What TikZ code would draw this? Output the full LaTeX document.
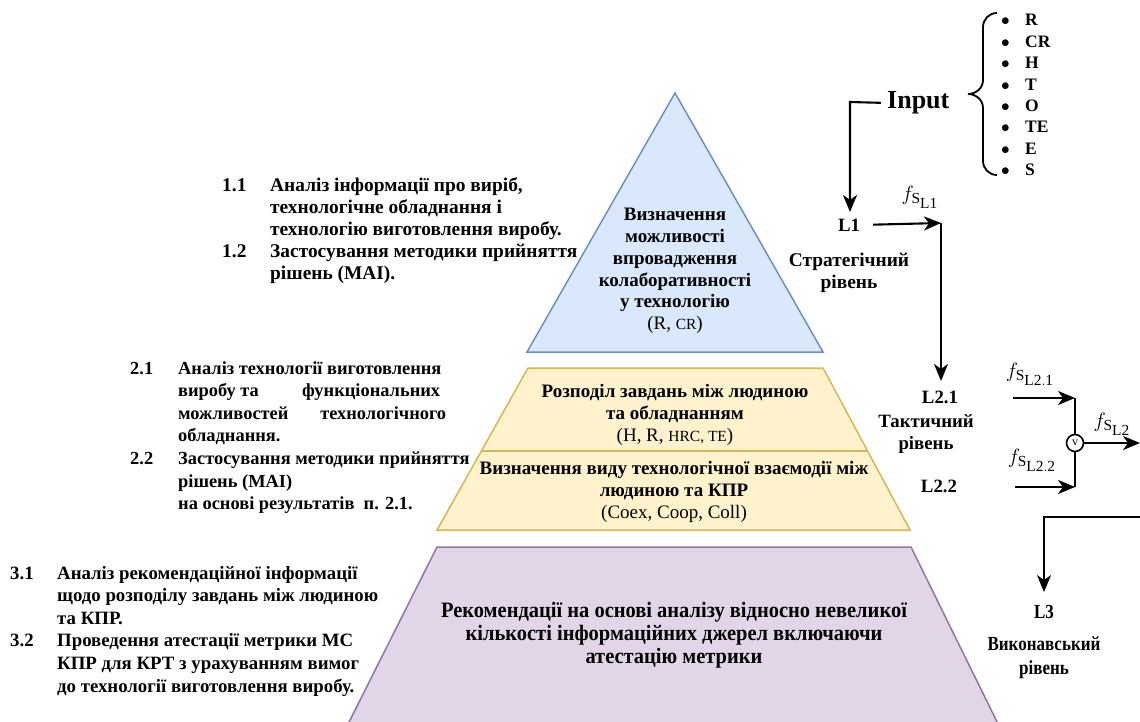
\documentclass[tikz,border=0pt]{standalone}
\usepackage{fontspec}
\setmainfont{Liberation Serif}[BoldFont={Liberation Serif Bold}]
\usetikzlibrary{arrows.meta}
\definecolor{blueF}{HTML}{DAE8FC}
\definecolor{blueD}{HTML}{6C8EBF}
\definecolor{yelF}{HTML}{FFF2CC}
\definecolor{yelD}{HTML}{D6B656}
\definecolor{purF}{HTML}{E1D5E7}
\definecolor{purD}{HTML}{9673A6}
\tikzset{
  lvlshape/.style={line width=1.5pt},
  ptext/.style={align=center, inner sep=0pt, font=\bfseries\fontsize{19}{21.7}\selectfont},
  lbl/.style={align=center, inner sep=0pt, font=\bfseries\fontsize{18.8}{22}\selectfont},
  lefttext/.style={anchor=base west, inner sep=0pt, font=\bfseries\fontsize{18.4}{22.6}\selectfont},
  flabel/.style={inner sep=0pt, font=\fontsize{22}{24}\selectfont},
  arr/.style={line width=2.1pt, -{Stealth[length=17pt,width=14pt,inset=5pt]}},
  ln/.style={line width=2.1pt},
}
\begin{document}
\begin{tikzpicture}[x=1pt,y=-1pt]
\useasboundingbox (0,0) rectangle (1140,722);
\clip (0,0) rectangle (1140,722);
% pyramid
\draw[lvlshape, draw=blueD, fill=blueF] (675,93) -- (823,352) -- (527,352) -- cycle;
\draw[lvlshape, draw=yelD, fill=yelF] (528,368) -- (823,368) -- (910,530) -- (437,530) -- cycle;
\draw[lvlshape, draw=yelD] (481,451) -- (867,451);
\draw[lvlshape, draw=purD, fill=purF] (437,547) -- (911,547) -- (1001,730) -- (345,730) -- cycle;

\node[ptext] (t1) at (675,271) {Визначення\\можливості\\впровадження\\колаборативності\\у технологію\\{\mdseries (R, {\fontsize{15.5}{15}\selectfont CR})}};
\node[ptext] (t21) at (675,415) {Розподіл завдань між людиною\\та обладнанням\\{\mdseries (H, R, {\fontsize{15.5}{15}\selectfont HRC, TE})}};
\node[ptext] (t22) at (674,492) {Визначення виду технологічної взаємодії між\\людиною та КПР\\{\mdseries (Coex, Coop, Coll)}};
\node[ptext, font=\bfseries\fontsize{22}{23}\selectfont] (t3) at (674,636) {\scalebox{0.93}[1]{\begin{tabular}{@{}c@{}}Рекомендації на основі аналізу відносно невеликої\\кількості інформаційних джерел включаючи\\атестацію метрики\end{tabular}}};

% left texts
\node[lefttext, font=\bfseries\fontsize{19.4}{22}\selectfont] (b1) at (222,192) {\begin{tabular}[t]{@{}l@{}l@{}}
\makebox[48pt][l]{1.1}&Аналіз інформації про виріб,\\
&технологічне обладнання і\\
&технологію виготовлення виробу.\\
\makebox[48pt][l]{1.2}&Застосування методики прийняття\\
&рішень (МАІ).\end{tabular}};
\node[lefttext] (b2) at (130,374) {\begin{tabular}[t]{@{}l@{}l@{}}
\makebox[48pt][l]{2.1}&Аналіз технології виготовлення\\
&\makebox[262pt][s]{виробу та\hfill функціональних}\\
&\makebox[268pt][s]{можливостей\hfill технологічного}\\
&обладнання.\\
\makebox[48pt][l]{2.2}&Застосування методики прийняття\\
&рішень (МАІ)\\
&на основі результатів~ п. 2.1.\end{tabular}};
\node[lefttext, font=\bfseries\fontsize{18.8}{22.6}\selectfont] (b3) at (10,579) {\begin{tabular}[t]{@{}l@{}l@{}}
\makebox[47pt][l]{3.1}&Аналіз рекомендаційної інформації\\
&щодо розподілу завдань між людиною\\
&та КПР.\\
\makebox[47pt][l]{3.2}&Проведення атестації метрики МС\\
&КПР для КРТ з урахуванням вимог\\
&до технології виготовлення виробу.\end{tabular}};

% input
\node[lbl, anchor=west, font=\bfseries\fontsize{26}{28}\selectfont] (input) at (887,103) {Input};
\draw[ln, line width=1.8pt] (997,13) to[out=180,in=90] (983,27) -- (983,80) to[out=-90,in=0] (968,94)
  to[out=0,in=90] (983,108) -- (983,161) to[out=-90,in=180] (997,175);
\node[anchor=base west, inner sep=0pt, font=\bfseries\fontsize{17.5}{21.4}\selectfont] (ilist) at (1001,26) {\begin{tabular}[t]{@{}l@{}l@{}}
\makebox[24pt][l]{$\bullet$}&R\\ $\bullet$&CR\\ $\bullet$&H\\ $\bullet$&T\\ $\bullet$&O\\ $\bullet$&TE\\ $\bullet$&E\\ $\bullet$&S\end{tabular}};

% levels
\node[lbl] (L1) at (849,225) {L1};
\node[lbl, font=\bfseries\fontsize{19.4}{22}\selectfont] (s1) at (849,273) {Стратегічний\\рівень};
\node[lbl] (L21) at (940,397) {L2.1};
\node[lbl] (s2) at (926,434) {Тактичний\\рівень};
\node[lbl] (L22) at (939,486) {L2.2};
\node[lbl, font=\bfseries\fontsize{20}{24}\selectfont] (L3) at (1044,612) {\scalebox{0.85}[1]{L3}};
\node[lbl, font=\bfseries\fontsize{20}{24}\selectfont] (s3) at (1044,658) {\scalebox{0.85}[1]{\begin{tabular}{@{}c@{}}Виконавський\\рівень\end{tabular}}};

% connectors
\coordinate (c0) at (850,102);
\draw[arr, shorten >=13pt, shorten <=6pt] (input.west) -- (c0) -- (c0 |- L1);
\coordinate (c1) at (941,223);
\draw[arr, shorten <=13pt] (L1.east) -- (c1);
\draw[arr, shorten >=16pt] (c1) -- (c1 |- L21);
\node[flabel] (f1) at (920,197) {$f_{\mathrm{S}_{\scriptstyle\mathrm{L1}}}$};

\node[circle, draw, line width=1.6pt, minimum size=17pt, inner sep=0pt, font=\fontsize{12}{12}\selectfont] (or) at (1075,443) {v};
\coordinate (a21) at (1013,398);
\coordinate (c21) at (1075,398);
\coordinate (a22) at (1015,487);
\coordinate (c22) at (1075,487);
\coordinate (oend) at (1140,443);
\draw[arr] (a21) -- (c21);
\draw[arr] (a22) -- (c22);
\draw[ln] (c21) -- (or.north);
\draw[ln] (or.south) -- (c22);
\draw[arr] (or.east) -- (oend);
\node[flabel] (f21) at (1030,374) {$f_{\mathrm{S}_{\scriptstyle\mathrm{L2.1}}}$};
\node[flabel] (f22) at (1032,460) {$f_{\mathrm{S}_{\scriptstyle\mathrm{L2.2}}}$};
\node[flabel] (f2) at (1112,424) {$f_{\mathrm{S}_{\scriptstyle\mathrm{L2}}}$};

\coordinate (d0) at (1141,517);
\coordinate (d1) at (1044,517);
\draw[arr, shorten >=13pt] (d0) -- (d1) -- (L3.north);
\end{tikzpicture}
\end{document}
